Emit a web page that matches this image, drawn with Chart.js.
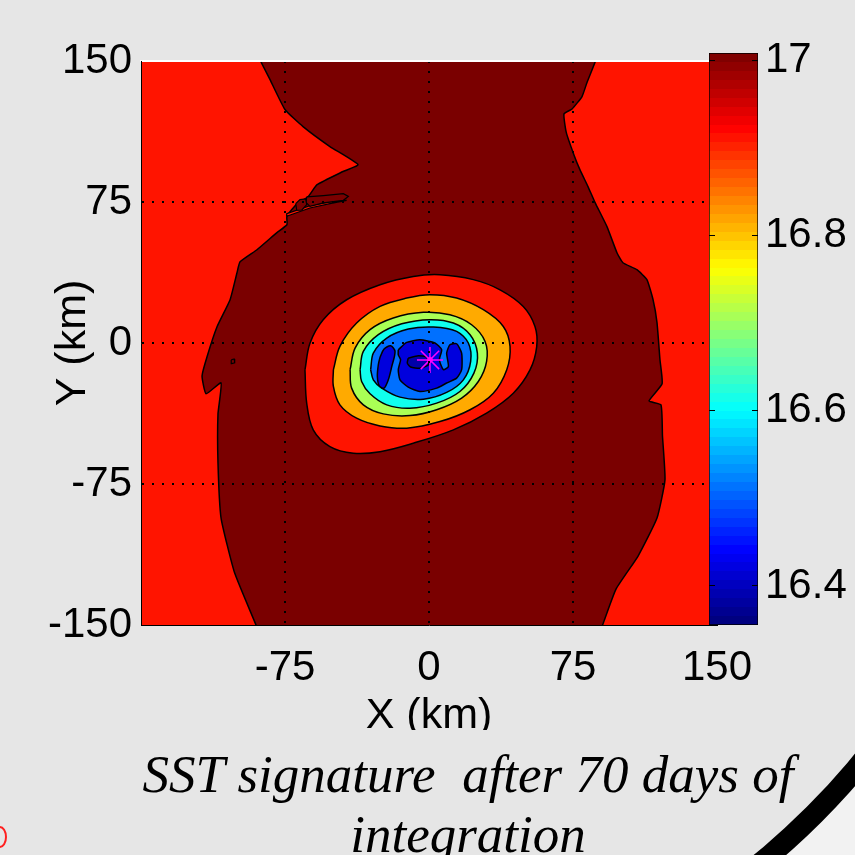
<!DOCTYPE html>
<html>
<head>
<meta charset="utf-8">
<script src="https://cdn.jsdelivr.net/npm/chart.js@4.4.1/dist/chart.umd.min.js"></script>
<style>
  html, body { margin: 0; padding: 0; }
  body { width: 855px; height: 855px; background: #e6e6e6; position: relative; overflow: hidden; }
  canvas { position: absolute; left: 0; top: 0; }
  #sst { z-index: 1; }
  #cbar { z-index: 2; }
  #caption {
    position: absolute; left: 118px; top: 730px; width: 700px; height: 125px;
    box-sizing: border-box; padding-top: 14px; background: #e6e6e6; z-index: 3;
    font: italic 53px "Liberation Serif", "Times New Roman", serif; line-height: 60px;
    text-align: center; white-space: nowrap; color: #000;
  }
  #frame {
    position: absolute; left: -433px; top: -433px; width: 1470px; height: 1470px;
    box-sizing: border-box; border: 21px solid #000; border-radius: 50%;
    box-shadow: 0 0 0 600px #f2f2f2; z-index: 4;
  }
  #redmark {
    position: absolute; left: -7px; top: 826px; width: 10px; height: 18px;
    border: 2px solid #ff2020; border-radius: 50%; z-index: 4;
  }
</style>
</head>
<body>
<canvas id="sst" width="855" height="855"></canvas>
<canvas id="cbar" width="855" height="855"></canvas>
<div id="caption">SST signature&nbsp; after 70 days of<br>integration</div>
<div id="frame"></div>
<div id="redmark"></div>
<script>
// axes (km) and colour scale
const xTicks = [-150, -75, 0, 75, 150];
const yTicks = [150, 75, 0, -75, -150];
const cbarTicks = [16.4, 16.6, 16.8, 17];
const cbarRange = [16.3555, 17.008];

// filled contour regions, [x km, y km]
const outerArea = [[-160,-160],[160,-160],[160,160],[-160,160]];
const warmBand = [
  [-89.5,156],[-87.7,150],[-82.8,140.1],[-75,124.2],[-65.6,115.1],[-51.6,104.5],[-37,94.9],
  [-44.8,91.2],[-58.3,84.2],[-63,77.8],[-68.8,74],[-74,67.5],[-74,62.9],[-79.2,58.7],
  [-89.6,49.6],[-98.4,43.2],[-100,37.4],[-103.6,23],[-110.4,8.6],[-115.6,-7.3],[-118.2,-17.5],
  [-116.1,-27],[-108.3,-21.2],[-109.9,-37.7],[-109.9,-63.8],[-108.3,-93.1],[-101.3,-122.1],
  [-90.1,-150],[-88,-156],
  [88,-156],[90.4,-150],[97.4,-130.9],[108.9,-113.3],[118.75,-93.1],[122.9,-72.8],[121.6,-49.4],
  [120.8,-32.9],[114.6,-30.8],[121.4,-21.7],[120.3,-9],[118.75,10.8],[116.7,23],[113.5,33.7],
  [108.3,39],[101,42.7],[97.9,48],[92.7,61.9],[86.5,74.7],[82.8,83.2],[78.6,92.2],[75.5,100],
  [71.5,112],[70.3,121.8],[74.5,124.5],[79.7,131.1],[82.3,138.6],[86.7,150],[88,156]
];
const coolFilament = [[-74.1,67.4],[-62,71.8],[-51.6,74.1],[-42.9,75.9],[-51.6,75],[-62,73.1],[-74.1,68.8]];
const warmStrip = [[-63.7,77.7],[-55,78.4],[-44.6,79.4],[-42,78],[-44.6,75.9],[-55,74.5],[-62,72.7],[-64.1,74.8]];
const warmBlob = [[-69.4,74.1],[-67.2,76.3],[-64.2,76.6],[-63.7,73.6],[-66.3,70.6],[-68.9,70.6]];
const warmDot = [[-103,-9],[-101.5,-8.5],[-101.2,-10.5],[-102.8,-11]];
const ring1 = [
  [-64.6,-14.3],[-62,-0.1],[-55.1,12.4],[-42.9,23],[-25.5,31],[-8.2,35.4],[5.7,36.3],[23.1,33.7],
  [37,28.3],[49.1,19.4],[55.2,8.8],[56.1,-1.9],[52.6,-14.3],[43.9,-26.7],[30,-37.3],[12.7,-46.2],
  [-8.2,-53.3],[-25.5,-57.8],[-39.4,-58.6],[-51.6,-55.1],[-60.3,-46.2],[-63.7,-32]
];
const ring2 = [
  [-49.8,-14.2],[-46.4,-1.8],[-37.7,10.6],[-25.5,19.5],[-11.6,23.9],[0.5,25.7],[14.4,23.9],
  [28.3,17.7],[38.7,8.8],[42.2,-1.8],[40.5,-14.2],[33.5,-26.7],[21.4,-35.5],[5.7,-41.8],
  [-11.6,-45.3],[-25.5,-44.1],[-37.7,-40],[-46.4,-32.9],[-49.8,-23.1]
];
const ring3 = [
  [-41.1,-14.2],[-38.5,-2.7],[-30.7,7.1],[-18.6,13.3],[-2.9,16.3],[10.9,15],[22.2,9.7],[29.2,0.8],
  [30,-9.8],[25.7,-20.5],[17,-29.3],[4,-35.5],[-9.9,-38.6],[-23.8,-37.7],[-34.2,-32.9],[-40.3,-24]
];
const ring4 = [
  [-35.9,-14.2],[-34.2,-4.5],[-26.4,4.4],[-14.2,10.2],[0.5,12.4],[12.7,10.6],[21.4,4.4],[25.2,-5.4],
  [23.4,-16],[16.1,-25.8],[4,-32],[-9.9,-34.7],[-22,-32.9],[-30.7,-27],[-35.1,-20.5]
];
const ring5 = [
  [-30.4,-14.2],[-29,-5.4],[-22,2.6],[-10.8,7.4],[2.3,8.5],[14.4,6.2],[20.5,0],[21.7,-9.8],
  [17.9,-19.6],[9.2,-26.3],[-2.9,-29.9],[-15.1,-28.8],[-24.6,-24],[-29,-19.6]
];
const coreMain = [
  [-16,-3.6],[-11.6,0.3],[-4.7,1.7],[3.1,0],[6.6,-3.6],[5.4,-8.9],[7.5,-14.2],[10.1,-12.5],
  [9.2,-5.4],[10.9,-0.9],[14.4,-0.4],[17,-5.4],[17,-14.2],[14.4,-18.7],[9.2,-21.3],[4,-24],
  [-4.7,-25.8],[-10.8,-23.5],[-15.1,-19.6],[-16,-14.2],[-14.8,-8.9],[-16,-6.3]
];
const coreWest = [
  [-25.5,-7.5],[-23.4,-3.2],[-20,-1.5],[-17.7,-4.5],[-19.4,-12.5],[-21.2,-19.6],[-23.4,-24],
  [-25.9,-22.8],[-26.9,-17.8],[-26.4,-11.6]
];
const coreMin = [[-10.8,-8],[-5.6,-6.8],[-1.2,-7.5],[-0.3,-11.6],[-4.7,-13.4],[-9.6,-12.8],[-11.3,-10.7]];
const eddyCentre = [[0.5, -9]];

const fontSans = '"Liberation Sans", Arial, Helvetica, sans-serif';
Chart.defaults.font.family = fontSans;
Chart.defaults.color = '#000';

function toXY(list, close){
    const pts = list.map(p => ({x: p[0], y: p[1]}));
    if (close) pts.push({x: list[0][0], y: list[0][1]});
    return pts;
}

function region(list, color, lw, tension){
    return {
        data: toXY(list, true),
        showLine: true,
        fill: 'shape',
        backgroundColor: color,
        borderColor: '#000',
        borderWidth: lw,
        pointRadius: 0,
        tension: tension || 0
    };
}

const datasets = [
    region(outerArea, '#ff1400', 0),
    region(warmBand, '#7a0000', 1.5, 0.15),
    region(coolFilament, '#ff1400', 1.2),
    region(warmStrip, '#7a0000', 1.2),
    region(warmBlob, '#7a0000', 1.2),
    region(warmDot, '#7a0000', 1.2),
    region(ring1, '#ff1400', 1.5, 0.35),
    region(ring2, '#ffaa00', 1.5, 0.35),
    region(ring3, '#aaff55', 1.5, 0.35),
    region(ring4, '#10ffee', 1.5, 0.35),
    region(ring5, '#0070ff', 1.5, 0.3),
    region(coreMain, '#0000dd', 1.5, 0.2),
    region(coreWest, '#0000dd', 1.5, 0.3),
    region(coreMin, '#0000a8', 1.5, 0.2),
    {
        data: toXY(eddyCentre, false),
        showLine: false,
        pointStyle: 'star',
        pointRadius: 13,
        pointBorderColor: '#ff00ff',
        pointBackgroundColor: '#ff00ff',
        pointBorderWidth: 1.5
    },
    {
        data: toXY(eddyCentre, false),
        showLine: false,
        pointStyle: 'circle',
        pointRadius: 2.5,
        pointBorderColor: '#ff00ff',
        pointBackgroundColor: 'rgba(0,0,0,0)',
        pointBorderWidth: 1
    }
];
// first region at the bottom, last one on top
datasets.forEach((d, i) => { d.order = datasets.length - i; });

function gridColor(ctx){
    return Math.abs(ctx.tick.value) === 150 ? 'rgba(0,0,0,0)' : '#000';
}

new Chart(document.getElementById('sst').getContext('2d'), {
    type: 'scatter',
    data: { datasets },
    options: {
        responsive: false,
        animation: false,
        events: [],
        layout: { padding: { top: 61, right: 138, left: 0, bottom: 0 } },
        plugins: { legend: { display: false }, tooltip: { enabled: false } },
        scales: {
            x: {
                type: 'linear', position: 'bottom', min: -150, max: 150,
                afterBuildTicks: s => { s.ticks = xTicks.map(v => ({ value: v })); },
                afterFit: s => { s.height = 230; },
                ticks: {
                    font: { size: 42 }, color: '#000', padding: 18, maxRotation: 0, autoSkip: false,
                    callback: v => (v === -150 ? '' : String(v))
                },
                grid: { color: gridColor, lineWidth: 2, drawTicks: false, z: 1 },
                border: { display: true, color: '#000', width: 1, dash: [2, 8], z: 1 },
                title: { display: true, text: 'X (km)', font: { size: 43 }, color: '#000', padding: { top: 0, bottom: 113 } }
            },
            xTop: {
                type: 'linear', position: 'top', min: -150, max: 150,
                afterFit: s => { s.height = 0; },
                ticks: { display: false },
                grid: { display: false },
                border: { display: true, color: '#ffffff', width: 2, z: 1 }
            },
            y: {
                type: 'linear', position: 'left', min: -150, max: 150,
                afterBuildTicks: s => { s.ticks = yTicks.map(v => ({ value: v })); },
                afterFit: s => { s.width = 141; },
                ticks: { font: { size: 42 }, color: '#000', padding: 9, autoSkip: false, callback: v => String(v) },
                grid: { color: gridColor, lineWidth: 2, drawTicks: false, z: 1 },
                border: { display: true, color: '#000', width: 1, dash: [2, 8], z: 1 },
                title: { display: true, text: 'Y (km)', font: { size: 43 }, color: '#000', padding: { top: 47, bottom: 0 } }
            }
        }
    }
});

// jet colour map, 64 steps
function jet(t){
    const c = v => Math.round(255 * Math.max(0, Math.min(1, v)));
    return 'rgb(' + c(1.5 - Math.abs(4 * t - 3)) + ',' + c(1.5 - Math.abs(4 * t - 2)) + ',' + c(1.5 - Math.abs(4 * t - 1)) + ')';
}

function jetFill(ctx){
    const area = ctx.chart.chartArea;
    if (!area) return '#000';
    const g = ctx.chart.ctx.createLinearGradient(0, area.bottom, 0, area.top);
    const n = 64;
    for (let i = 0; i < n; i++) {
        const col = jet(i / (n - 1));
        g.addColorStop(i / n, col);
        g.addColorStop(Math.min(1, (i + 1) / n - 0.0001), col);
    }
    return g;
}

new Chart(document.getElementById('cbar').getContext('2d'), {
    type: 'bar',
    data: {
        labels: ['SST'],
        datasets: [{
            data: [cbarRange],
            backgroundColor: jetFill,
            borderColor: '#000',
            borderWidth: 1,
            borderSkipped: false,
            barPercentage: 1,
            categoryPercentage: 1
        }]
    },
    options: {
        responsive: false,
        animation: false,
        events: [],
        layout: { padding: { left: 709, top: 53, bottom: 230, right: 0 } },
        plugins: { legend: { display: false }, tooltip: { enabled: false } },
        scales: {
            x: { display: false },
            y: {
                position: 'right', min: cbarRange[0], max: cbarRange[1],
                afterBuildTicks: s => { s.ticks = cbarTicks.map(v => ({ value: v })); },
                afterFit: s => { s.width = 97; },
                ticks: { font: { size: 42 }, color: '#000', padding: 7, autoSkip: false, callback: v => String(v) },
                grid: { color: '#000', lineWidth: 1, drawTicks: false, z: 1 },
                border: { display: false, dash: [6, 37] }
            }
        }
    }
});
</script>
</body>
</html>
